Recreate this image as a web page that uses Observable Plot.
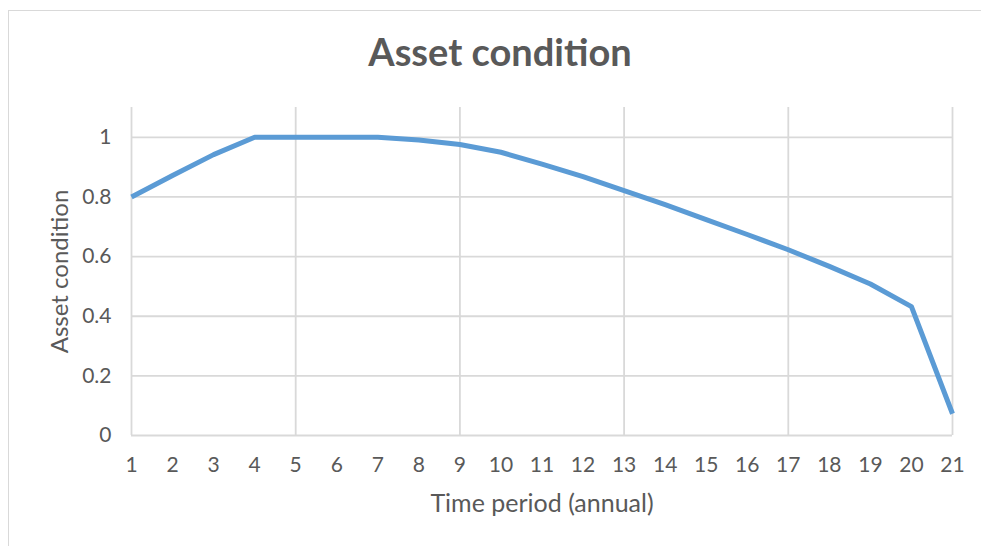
<!DOCTYPE html>
<html>
<head>
<meta charset="utf-8">
<script src="https://cdn.jsdelivr.net/npm/d3@7"></script>
<script src="https://cdn.jsdelivr.net/npm/@observablehq/plot@0.6"></script>
<style>
  html, body { margin: 0; padding: 0; background: #fff; width: 981px; height: 546px; overflow: hidden; }
  #frame { position: absolute; left: 8px; top: 10px; width: 1000px; height: 600px; border: 1.5px solid #d9d9d9; box-sizing: border-box; }
  #title { position: absolute; left: 0; top: 28px; width: 1000px; text-align: center; font-family: Lato, "Open Sans", sans-serif; font-weight: bold; font-size: 38px; color: #595959; line-height: 46px; }
  #chart { position: absolute; left: 0; top: 90px; }
</style>
</head>
<body>
<div id="frame"></div>
<div id="title">Asset condition</div>
<div id="chart"></div>
<script>
const periods = [1,2,3,4,5,6,7,8,9,10,11,12,13,14,15,16,17,18,19,20,21];
const condition = [0.80,0.872,0.942,1.0,1.0,1.0,1.0,0.991,0.976,0.95,0.91,0.868,0.821,0.774,0.724,0.674,0.623,0.567,0.508,0.432,0.073];
const yTicks = [0,0.2,0.4,0.6,0.8,1];
const xGrid = [1,5,9,13,17,21];
const xLabel = "Time period (annual)";
const yLabel = "Asset condition";
const data = periods.map((p,i)=>({period:p, value:condition[i]}));

const chart = Plot.plot({
  width: 981,
  height: 456,
  marginLeft: 131,
  marginRight: 29,
  marginTop: 17,
  marginBottom: 111,
  style: { fontFamily: 'Lato, "Open Sans", sans-serif', fontSize: "21px", color: "#595959", background: "transparent" },
  x: { domain: [1,21] },
  y: { domain: [0,1.1] },
  marks: [
    Plot.gridY(yTicks, { stroke: "#d9d9d9", strokeOpacity: 1, strokeWidth: 1.8 }),
    Plot.gridX(xGrid, { stroke: "#d9d9d9", strokeOpacity: 1, strokeWidth: 1.8 }),
    Plot.axisY(yTicks, { tickSize: 0, tickPadding: 20, tickFormat: d => String(d), label: null, fontSize: 21 }),
    Plot.axisX(periods, { tickSize: 0, tickPadding: 22, tickFormat: d => String(d), label: null, fontSize: 21 }),
    Plot.text([xLabel], { text: d => d, frameAnchor: "bottom", textAnchor: "middle", dy: 76, fontSize: 25, fill: "#595959" }),
    Plot.text([yLabel], { text: d => d, frameAnchor: "left", textAnchor: "middle", rotate: -90, dx: -71, fontSize: 24, fill: "#595959" }),
    Plot.line(data, { x: "period", y: "value", stroke: "#5b9bd5", strokeWidth: 5, strokeLinejoin: "round", strokeLinecap: "butt" })
  ]
});
d3.select(chart).selectAll('g[aria-label$="tick label"]').style("font-size", "21px").selectAll("text").style("font-size", "21px");
document.getElementById("chart").appendChild(chart);
</script>
</body>
</html>
